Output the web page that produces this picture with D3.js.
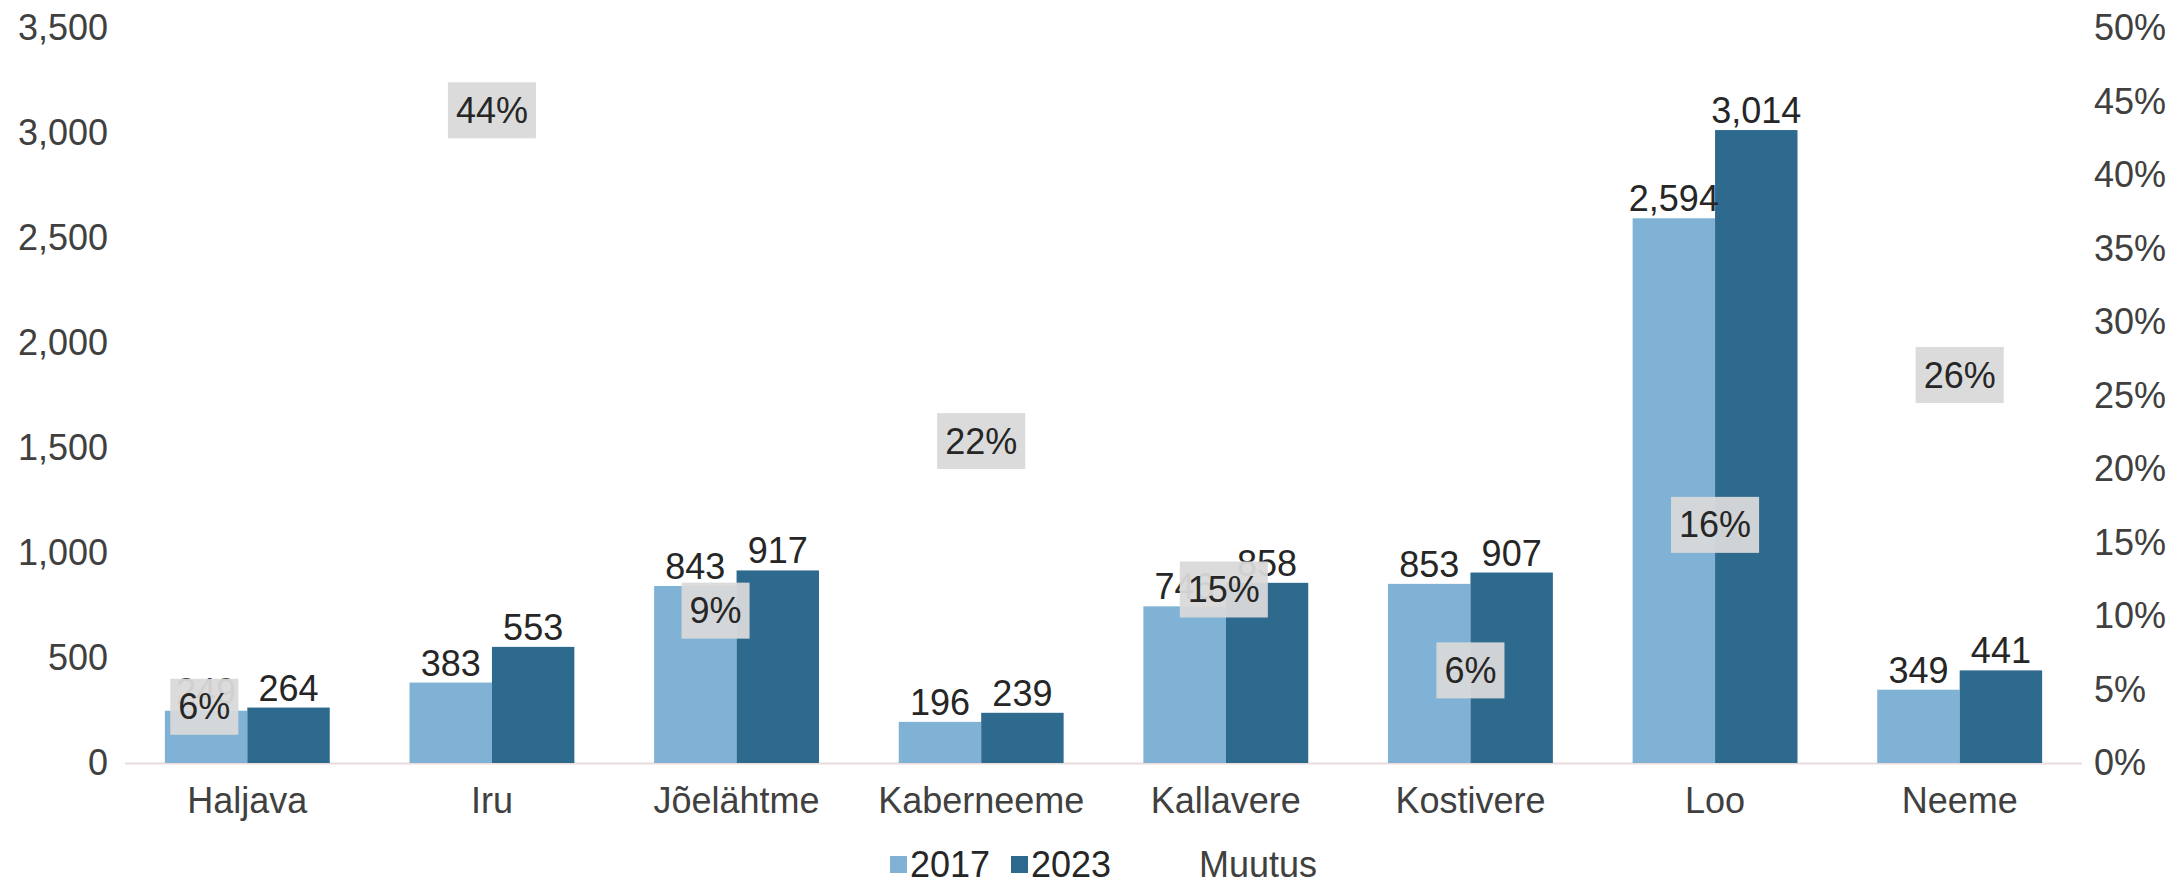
<!DOCTYPE html>
<html><head><meta charset="utf-8">
<script src="https://cdn.jsdelivr.net/npm/d3@7"></script>
<style>
html,body{margin:0;padding:0;background:#fff;}
svg{display:block;font-family:"Liberation Sans",Arial,sans-serif;}
</style></head>
<body>
<svg id="chart" width="2177" height="885"></svg>
<script>
// ---- data ----
const categories = ["Haljava","Iru","Jõelähtme","Kaberneeme","Kallavere","Kostivere","Loo","Neeme"];
const values2017 = [249, 383, 843, 196, 746, 853, 2594, 349];
const values2023 = [264, 553, 917, 239, 858, 907, 3014, 441];
const muutus = [0.060, 0.444, 0.088, 0.219, 0.150, 0.063, 0.162, 0.264];
const seriesNames = ["2017","2023","Muutus"];
const leftTicks = [0,500,1000,1500,2000,2500,3000,3500];
const rightTicks = [0,0.05,0.10,0.15,0.20,0.25,0.30,0.35,0.40,0.45,0.50];

// ---- style / layout ----
const colors = {"2017":"#7fb2d5","2023":"#2e6a8e"};
const FS = 36;
const plot = {left:125, right:2082, top:28, bottom:763};
// manual label nudges (px) as in the original
const labelNudge = {"Haljava":[-43,32],"Jõelähtme":[-21,-23],"Kallavere":[-2,47]};

const svg = d3.select("#chart");
const x0 = d3.scaleBand().domain(categories).range([plot.left, plot.right]).paddingInner(0.326).paddingOuter(0.163);
const x1 = d3.scaleBand().domain(["2017","2023"]).range([0, x0.bandwidth()]);
const y = d3.scaleLinear().domain([0,3500]).range([plot.bottom, plot.top]);
const y2 = d3.scaleLinear().domain([0,0.5]).range([plot.bottom, plot.top]);

// baseline
svg.append("line").attr("x1",plot.left).attr("x2",plot.right)
  .attr("y1",y(0)+0.5).attr("y2",y(0)+0.5).attr("stroke","#eadcdc").attr("stroke-width",2);

// left axis
const gl = svg.append("g").attr("transform",`translate(${plot.left},0)`)
  .call(d3.axisLeft(y).tickValues(leftTicks).tickFormat(d3.format(",")).tickSize(0).tickPadding(17));
gl.select(".domain").remove();
gl.selectAll("text").attr("font-size",FS).attr("fill","#404040").attr("font-family","Liberation Sans, Arial, sans-serif");

// right axis
const gr = svg.append("g").attr("transform",`translate(${plot.right},0)`)
  .call(d3.axisRight(y2).tickValues(rightTicks).tickFormat(d3.format(".0%")).tickSize(0).tickPadding(12));
gr.select(".domain").remove();
gr.selectAll("text").attr("font-size",FS).attr("fill","#404040").attr("font-family","Liberation Sans, Arial, sans-serif");

// bottom axis
const gb = svg.append("g").attr("transform",`translate(0,${plot.bottom})`)
  .call(d3.axisBottom(x0).tickSize(0));
gb.select(".domain").remove();
gb.selectAll("text").attr("font-size",FS).attr("fill","#404040").attr("dy",null).attr("y",50)
  .attr("font-family","Liberation Sans, Arial, sans-serif");

// bars
const rows = categories.map((c,i)=>({cat:c, vals:[{k:"2017",v:values2017[i]},{k:"2023",v:values2023[i]}], m:muutus[i]}));
const grp = svg.append("g").selectAll("g").data(rows).join("g")
  .attr("transform",d=>`translate(${x0(d.cat)},0)`);
grp.selectAll("rect").data(d=>d.vals).join("rect")
  .attr("x",d=>x1(d.k)).attr("width",x1.bandwidth())
  .attr("y",d=>y(d.v)).attr("height",d=>y(0)-y(d.v))
  .attr("fill",d=>colors[d.k]);
grp.selectAll("text.val").data(d=>d.vals).join("text").attr("class","val")
  .attr("x",d=>x1(d.k)+x1.bandwidth()/2).attr("y",d=>y(d.v)-7)
  .attr("text-anchor","middle").attr("font-size",FS).attr("fill","#262626")
  .text(d=>d3.format(",")(d.v));

// Muutus labels (line series with no line, labels in grey boxes)
const pfmt = d3.format(".0%");
const lab = svg.append("g").selectAll("g").data(rows).join("g")
  .attr("transform",d=>{
    const n = labelNudge[d.cat]||[0,0];
    return `translate(${x0(d.cat)+x0.bandwidth()/2+n[0]},${y2(d.m)+n[1]})`;
  });
lab.each(function(d){
  const g = d3.select(this);
  const t = g.append("text").attr("text-anchor","middle").attr("dy","0.35em")
    .attr("font-size",FS).attr("fill","#262626").text(pfmt(d.m));
  const w = t.node().getComputedTextLength();
  g.insert("rect","text").attr("x",-w/2-8).attr("y",-28).attr("width",w+16).attr("height",56)
    .attr("fill","#d9d9d9").attr("fill-opacity",0.95);
});

// legend
const leg = svg.append("g").attr("transform","translate(0,877)");
const legItems = [
  {name:seriesNames[0], color:colors["2017"], x:890},
  {name:seriesNames[1], color:colors["2023"], x:1011},
  {name:seriesNames[2], color:null, x:1199}
];
legItems.forEach(it=>{
  if(it.color){
    leg.append("rect").attr("x",it.x).attr("y",-21).attr("width",17).attr("height",17).attr("fill",it.color);
    leg.append("text").attr("x",it.x+20).attr("font-size",FS).attr("fill","#262626").text(it.name);
  } else {
    leg.append("text").attr("x",it.x).attr("font-size",FS).attr("fill","#404040").text(it.name);
  }
});
</script>
</body></html>
